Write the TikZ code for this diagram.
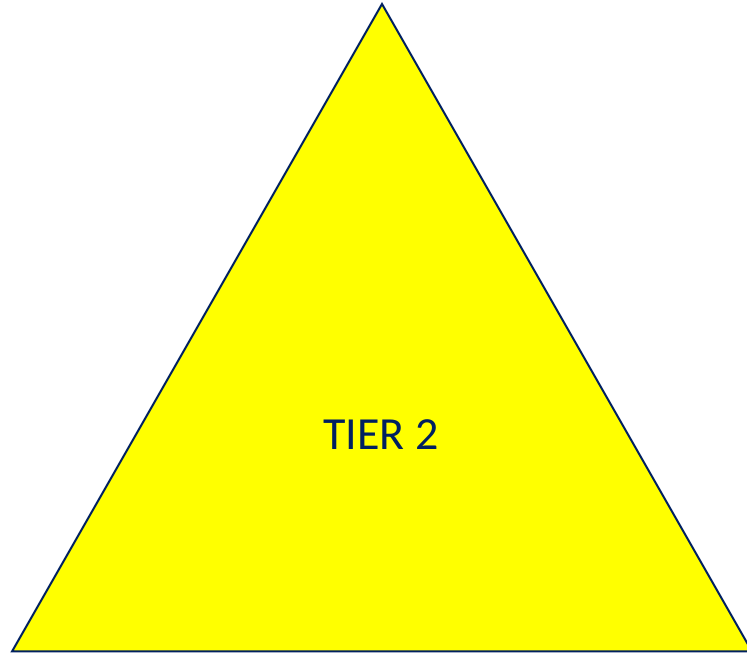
\documentclass[tikz,border=0pt]{standalone}
\usepackage{fontspec}
\setmainfont{Carlito}
\definecolor{navy}{HTML}{002060}
\definecolor{tieryellow}{HTML}{FFFF00}
\tikzset{tri/.style={fill=tieryellow,draw=navy,line width=2pt,line join=miter}}
\begin{document}
\begin{tikzpicture}[x=1pt,y=1pt]
\useasboundingbox (0,0) rectangle (747,653);
\begin{scope}
\clip (0,0) rectangle (747,653);
\coordinate (apex) at (382,649);
\coordinate (bl) at (12,1.5);
\coordinate (br) at (752,1.5);
\draw[tri] (apex) -- (br) -- (bl) -- cycle;
\end{scope}
\node[text=navy,font=\fontsize{46}{50}\selectfont] (label) at (381,218) {TIER 2};
\end{tikzpicture}
\end{document}
